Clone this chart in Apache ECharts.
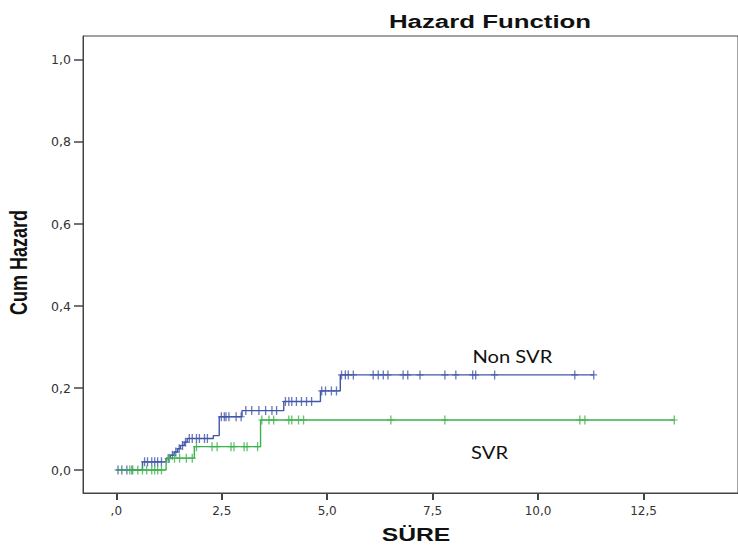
<!DOCTYPE html>
<html>
<head>
<meta charset="utf-8">
<script src="https://cdn.jsdelivr.net/npm/echarts@6/dist/echarts.min.js"></script>
<style>html,body{margin:0;padding:0;background:#fff}#c{width:738px;height:546px}</style>
</head>
<body>
<div id="c"></div>
<script>
// ---- Data ----
const xTicks = [0, 2.5, 5, 7.5, 10, 12.5];
const yTicks = [0, 0.2, 0.4, 0.6, 0.8, 1.0];

// Non SVR: step change times and cumulative hazard after each change
const nonSvrTimes = [0, 0.62, 1.18, 1.28, 1.37, 1.45, 1.52, 1.61, 1.68, 2.30, 2.44, 2.98, 3.97, 4.84, 5.31];
const nonSvrHaz   = [0, 0.020, 0.028, 0.036, 0.044, 0.052, 0.060, 0.068, 0.077, 0.084, 0.130, 0.145, 0.167, 0.193, 0.232];
const nonSvrEnd = 11.32;
const nonSvrCensored = [0.04, 0.13, 0.25, 0.37, 0.67, 0.74, 0.84, 0.91, 0.98, 1.07,
  1.23, 1.33, 1.41, 1.49, 1.57, 1.64, 1.73, 1.80, 1.90, 1.97, 2.09, 2.16,
  2.49, 2.56, 2.60, 2.67, 2.84, 2.96, 3.07, 3.21, 3.38, 3.54, 3.69, 3.80,
  4.01, 4.09, 4.16, 4.27, 4.39, 4.51, 4.63, 4.87, 4.96, 5.10, 5.22,
  5.34, 5.43, 5.50, 5.62, 6.09, 6.21, 6.33, 6.44, 6.80, 6.91, 7.20, 7.79, 8.05, 8.45, 8.52, 8.97, 10.87, 11.32];

// SVR
const svrTimes = [0, 1.18, 1.85, 3.42];
const svrHaz   = [0, 0.029, 0.057, 0.122];
const svrEnd = 13.23;
const svrCensored = [0.32, 0.39, 0.51, 0.62, 0.72, 0.84, 0.91, 0.98, 1.07,
  1.26, 1.38, 1.50, 1.66, 1.80, 1.90, 2.27, 2.39, 2.72, 2.79, 3.03, 3.10, 3.35,
  3.45, 3.62, 3.73, 4.09, 4.16, 4.32, 4.44, 6.51, 7.79, 10.99, 11.11, 13.23];

const seriesNames = ['Non SVR', 'SVR'];
const labelPos = [[9.39, 0.278], [8.85, 0.044]];

// ---- helpers ----
function stepData(times, haz, end) {
  const d = times.map((t, i) => [t, haz[i]]);
  d.push([end, haz[haz.length - 1]]);
  return d;
}
function lookup(times, haz, t) {
  let v = haz[0];
  for (let i = 0; i < times.length; i++) if (times[i] <= t) v = haz[i];
  return v;
}

const blue = '#4256a8', green = '#3db14b', axisCol = '#444';
const plusSym = 'path://M3.25,0h1.5v10h-1.5zM0,4.4h8v1.2h-8z';
const TICKFONT = 'DejaVu Sans, Liberation Sans, sans-serif';

const chart = echarts.init(document.getElementById('c'), null, {renderer: 'svg'});
chart.setOption({
  animation: false,
  backgroundColor: '#fff',
  grid: {left: 83, top: 36, width: 659, height: 457, show: true, borderColor: axisCol, borderWidth: 1, containLabel: false},
  xAxis: {
    type: 'value', min: -0.79, max: 14.74,
    axisLine: {show: true, onZero: false, lineStyle: {color: axisCol}},
    splitLine: {show: false},
    axisTick: {show: true, length: 7, customValues: xTicks, lineStyle: {color: axisCol, width: 2}},
    axisLabel: {customValues: xTicks, margin: 12, fontFamily: TICKFONT, fontSize: 12, color: '#333',
      formatter: v => v === 0 ? ',0' : v.toFixed(1).replace('.', ',')}
  },
  yAxis: {
    type: 'value', min: -0.056, max: 1.0585,
    axisLine: {show: true, onZero: false, lineStyle: {color: axisCol}},
    splitLine: {show: false},
    axisTick: {show: true, length: 9, customValues: yTicks, lineStyle: {color: axisCol, width: 1.5}},
    axisLabel: {customValues: yTicks, margin: 12, fontFamily: TICKFONT, fontSize: 12.5, color: '#333',
      formatter: v => v.toFixed(1).replace('.', ',')}
  },
  series: [
    {type: 'line', name: seriesNames[0], step: 'end', data: stepData(nonSvrTimes, nonSvrHaz, nonSvrEnd),
      showSymbol: false, lineStyle: {color: blue, width: 1.4}, z: 2},
    {type: 'scatter', data: nonSvrCensored.map(t => [t, lookup(nonSvrTimes, nonSvrHaz, t)]),
      symbol: plusSym, symbolSize: [7, 9], itemStyle: {color: blue}, z: 3},
    {type: 'line', name: seriesNames[1], step: 'end', data: stepData(svrTimes, svrHaz, svrEnd),
      showSymbol: false, lineStyle: {color: green, width: 1.4}, z: 4},
    {type: 'scatter', data: svrCensored.map(t => [t, lookup(svrTimes, svrHaz, t)]),
      symbol: plusSym, symbolSize: [7, 9], itemStyle: {color: green}, z: 5}
  ]
});

// Text elements (the reference image is stretched horizontally, so texts get a scaleX)
const gridRect = {left: 83, top: 36, width: 659, height: 457};
const labelPx = labelPos.map(p => chart.convertToPixel({gridIndex: 0}, p));
const txt = (text, x, y, font, opt) => Object.assign({
  type: 'text', x: x, y: y, z: 100, silent: true,
  style: {text: text, font: font, fill: '#111', align: 'center', verticalAlign: 'middle',
          textAlign: 'center', textVerticalAlign: 'middle'}
}, opt || {});
chart.setOption({
  graphic: [
    txt('Hazard Function', 490, 21, 'bold 19px "Liberation Sans", Arial, sans-serif', {scaleX: 1.36}),
    txt('SÜRE', gridRect.left + 333, 535, 'bold 19px "Liberation Sans", Arial, sans-serif', {scaleX: 1.3}),
    txt('Cum Hazard', 19, gridRect.top + gridRect.height / 2 - 2, 'bold 18px "Liberation Sans", Arial, sans-serif',
        {rotation: Math.PI / 2, scaleY: 1.3}),
    txt(seriesNames[0], labelPx[0][0], labelPx[0][1], '18px Lato, "Open Sans", sans-serif', {scaleX: 1.12}),
    txt(seriesNames[1], labelPx[1][0], labelPx[1][1], '18px Lato, "Open Sans", sans-serif', {scaleX: 1.12})
  ]
});
</script>
</body>
</html>
